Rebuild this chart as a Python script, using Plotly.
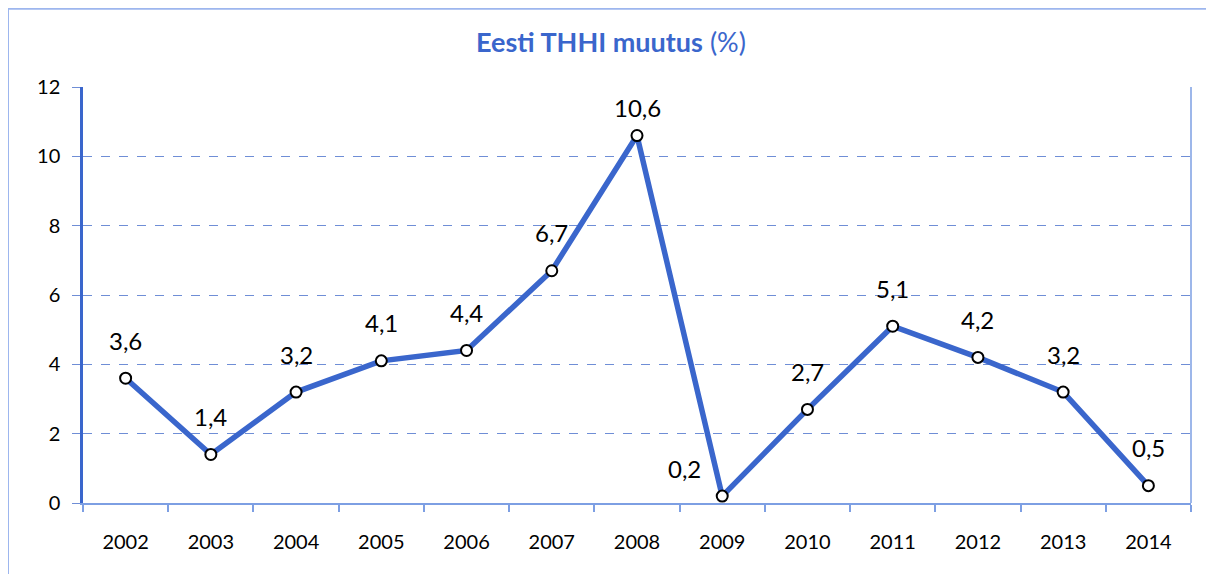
import plotly.graph_objects as go

years = ["2002", "2003", "2004", "2005", "2006", "2007", "2008",
         "2009", "2010", "2011", "2012", "2013", "2014"]
values = [3.6, 1.4, 3.2, 4.1, 4.4, 6.7, 10.6, 0.2, 2.7, 5.1, 4.2, 3.2, 0.5]
labels = [f"{v:.1f}".replace(".", ",") for v in values]

# page has an 8px body margin; figure is laid out in its own coords
W, H = 1206, 566
ML, MR, MT, MB = 75, 23, 79, 71

blue = "#3A66CC"
light = "#7D9FE3"
font = "Lato, 'Open Sans', sans-serif"

fig = go.Figure()
fig.add_trace(go.Scatter(
    x=years, y=values, mode="lines+markers",
    line=dict(color=blue, width=5.5),
    marker=dict(size=11, color="white", line=dict(color="black", width=2)),
    hoverinfo="skip", cliponaxis=False,
))

for i, (y, t) in enumerate(zip(values, labels)):
    xs, ys = 0, 38
    if y > 10:
        ys = 28
    if y < 0.3:
        xs, ys = -38, 28
    fig.add_annotation(x=i, y=y, xref="x", yref="y", text=t, showarrow=False,
                       xshift=xs, yshift=ys,
                       font=dict(family=font, size=24, color="black"))

pw, ph = W - ML - MR, H - MT - MB
shapes = [
    # outer chart border (left and top)
    dict(type="line", xref="paper", yref="paper", x0=-ML / pw, x1=-ML / pw,
         y0=-MB / ph, y1=1 + MT / ph, line=dict(color="#9DB6EE", width=2)),
    dict(type="line", xref="paper", yref="paper", x0=-ML / pw, x1=1 + MR / pw,
         y0=1 + MT / ph - 0.002, y1=1 + MT / ph - 0.002,
         line=dict(color="#9DB6EE", width=2)),
    # right plot border
    dict(type="line", xref="paper", yref="paper", x0=1, x1=1, y0=0, y1=1,
         line=dict(color=light, width=1.5)),
]

fig.update_layout(
    width=W, height=H,
    margin=dict(l=ML, r=MR, t=MT, b=MB),
    paper_bgcolor="white", plot_bgcolor="white",
    showlegend=False,
    shapes=shapes,
    title=dict(text="<b>Eesti THHI muutus</b> (%)", x=0.5, xanchor="center",
               y=1 - 35 / H, yanchor="middle", yref="container",
               font=dict(family=font, size=27, color=blue)),
    xaxis=dict(
        type="category", range=[-0.5, 12.5], tickson="boundaries",
        showgrid=False, showline=True, linecolor=light, linewidth=1.5,
        ticks="outside", ticklen=7, tickcolor=light, tickwidth=1.5,
        ticklabelstandoff=20,
        tickfont=dict(family=font, size=20, color="black"),
        fixedrange=True,
    ),
    yaxis=dict(
        range=[0, 12], dtick=2, tick0=0,
        showgrid=True, gridcolor="#6F8ED6", griddash="dash", gridwidth=1,
        showline=True, linecolor=blue, linewidth=2.5,
        ticks="outside", ticklen=8, tickcolor="#6F8ED6", tickwidth=1,
        ticklabelstandoff=8,
        tickfont=dict(family=font, size=20, color="black"),
        zeroline=False, fixedrange=True,
    ),
)

fig.write_html("out.html")
